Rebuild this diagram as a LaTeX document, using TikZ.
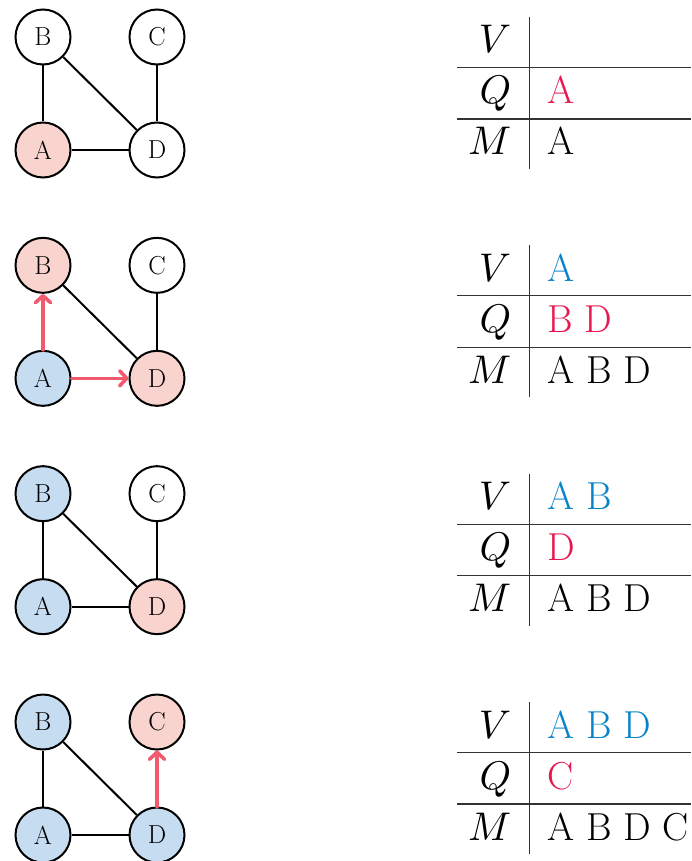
\documentclass[tikz,border=0pt]{standalone}
\usetikzlibrary{arrows.meta}
\definecolor{vred}{HTML}{F9D3CD}
\definecolor{vblue}{HTML}{C6DCF0}
\definecolor{arr}{HTML}{F25A6E}
\definecolor{tred}{HTML}{E8174F}
\definecolor{tblue}{HTML}{0A84C8}
\tikzset{
  vtx/.style={circle,draw=black,line width=2pt,minimum size=55pt,inner sep=0pt,fill=white,font=\fontsize{26}{30}\selectfont},
  fr/.style={fill=vred},
  fb/.style={fill=vblue},
  edge/.style={line width=2pt,black},
  tree/.style={line width=3.6pt,arr,line cap=round,-{Straight Barb[length=7pt,width=15pt,line cap=round,line join=round]}},
  rule/.style={line width=1.2pt,black!80},
  lab/.style={anchor=base east,inner sep=0pt,font=\fontsize{10}{12}\selectfont,scale=4},
  ent/.style={anchor=base west,inner sep=0pt,font=\fontsize{39}{44}\selectfont},
}
\begin{document}
\begin{tikzpicture}[x=1pt,y=-1pt]
\useasboundingbox (0,0) rectangle (691,861);
% ---------- row 1
\begin{scope}[shift={(0,0)}]
\node[vtx] (B1) at (43,37) {B};
\node[vtx] (C1) at (157,37) {C};
\node[vtx,fr] (A1) at (43,150) {A};
\node[vtx] (D1) at (157,150) {D};
\draw[edge] (B1) -- (A1);
\draw[edge] (B1) -- (D1);
\draw[edge] (C1) -- (D1);
\draw[edge] (A1) -- (D1);
\coordinate (t1a) at (529.3,17); \coordinate (t1b) at (529.3,169);
\coordinate (h1a) at (457,67.5); \coordinate (h1b) at (691,67.5);
\coordinate (h1c) at (457,119); \coordinate (h1d) at (691,119);
\draw[rule] (t1a) -- (t1b);
\draw[rule] (h1a) -- (h1b);
\draw[rule] (h1c) -- (h1d);
\node[lab] (V1) at (512,53) {$V$};
\node[lab] (Q1) at (512,104) {$Q$};
\node[lab] (M1) at (512,155) {$M$};
\node[ent,text=tred] (q1) at (547,104) {A};
\node[ent] (m1) at (547,155) {A};
\end{scope}
% ---------- row 2
\begin{scope}[shift={(0,228.33)}]
\node[vtx,fr] (B2) at (43,37) {B};
\node[vtx] (C2) at (157,37) {C};
\node[vtx,fb] (A2) at (43,150) {A};
\node[vtx,fr] (D2) at (157,150) {D};
\draw[edge] (B2) -- (D2);
\draw[edge] (C2) -- (D2);
\draw[tree] (A2) -- (B2);
\draw[tree] (A2) -- (D2);
\coordinate (t2a) at (529.3,17); \coordinate (t2b) at (529.3,169);
\coordinate (h2a) at (457,67.5); \coordinate (h2b) at (691,67.5);
\coordinate (h2c) at (457,119); \coordinate (h2d) at (691,119);
\draw[rule] (t2a) -- (t2b);
\draw[rule] (h2a) -- (h2b);
\draw[rule] (h2c) -- (h2d);
\node[lab] (V2) at (512,53) {$V$};
\node[lab] (Q2) at (512,104) {$Q$};
\node[lab] (M2) at (512,155) {$M$};
\node[ent,text=tblue] (v2) at (547,53) {A};
\node[ent,text=tred] (q2) at (547,104) {B D};
\node[ent] (m2) at (547,155) {A B D};
\end{scope}
% ---------- row 3
\begin{scope}[shift={(0,456.67)}]
\node[vtx,fb] (B3) at (43,37) {B};
\node[vtx] (C3) at (157,37) {C};
\node[vtx,fb] (A3) at (43,150) {A};
\node[vtx,fr] (D3) at (157,150) {D};
\draw[edge] (B3) -- (A3);
\draw[edge] (B3) -- (D3);
\draw[edge] (C3) -- (D3);
\draw[edge] (A3) -- (D3);
\coordinate (t3a) at (529.3,17); \coordinate (t3b) at (529.3,169);
\coordinate (h3a) at (457,67.5); \coordinate (h3b) at (691,67.5);
\coordinate (h3c) at (457,119); \coordinate (h3d) at (691,119);
\draw[rule] (t3a) -- (t3b);
\draw[rule] (h3a) -- (h3b);
\draw[rule] (h3c) -- (h3d);
\node[lab] (V3) at (512,53) {$V$};
\node[lab] (Q3) at (512,104) {$Q$};
\node[lab] (M3) at (512,155) {$M$};
\node[ent,text=tblue] (v3) at (547,53) {A B};
\node[ent,text=tred] (q3) at (547,104) {D};
\node[ent] (m3) at (547,155) {A B D};
\end{scope}
% ---------- row 4
\begin{scope}[shift={(0,685)}]
\node[vtx,fb] (B4) at (43,37) {B};
\node[vtx,fr] (C4) at (157,37) {C};
\node[vtx,fb] (A4) at (43,150) {A};
\node[vtx,fb] (D4) at (157,150) {D};
\draw[edge] (B4) -- (A4);
\draw[edge] (B4) -- (D4);
\draw[edge] (A4) -- (D4);
\draw[tree] (D4) -- (C4);
\coordinate (t4a) at (529.3,17); \coordinate (t4b) at (529.3,169);
\coordinate (h4a) at (457,67.5); \coordinate (h4b) at (691,67.5);
\coordinate (h4c) at (457,119); \coordinate (h4d) at (691,119);
\draw[rule] (t4a) -- (t4b);
\draw[rule] (h4a) -- (h4b);
\draw[rule] (h4c) -- (h4d);
\node[lab] (V4) at (512,53) {$V$};
\node[lab] (Q4) at (512,104) {$Q$};
\node[lab] (M4) at (512,155) {$M$};
\node[ent,text=tblue] (v4) at (547,53) {A B D};
\node[ent,text=tred] (q4) at (547,104) {C};
\node[ent] (m4) at (547,155) {A B D C};
\end{scope}
\end{tikzpicture}
\end{document}
